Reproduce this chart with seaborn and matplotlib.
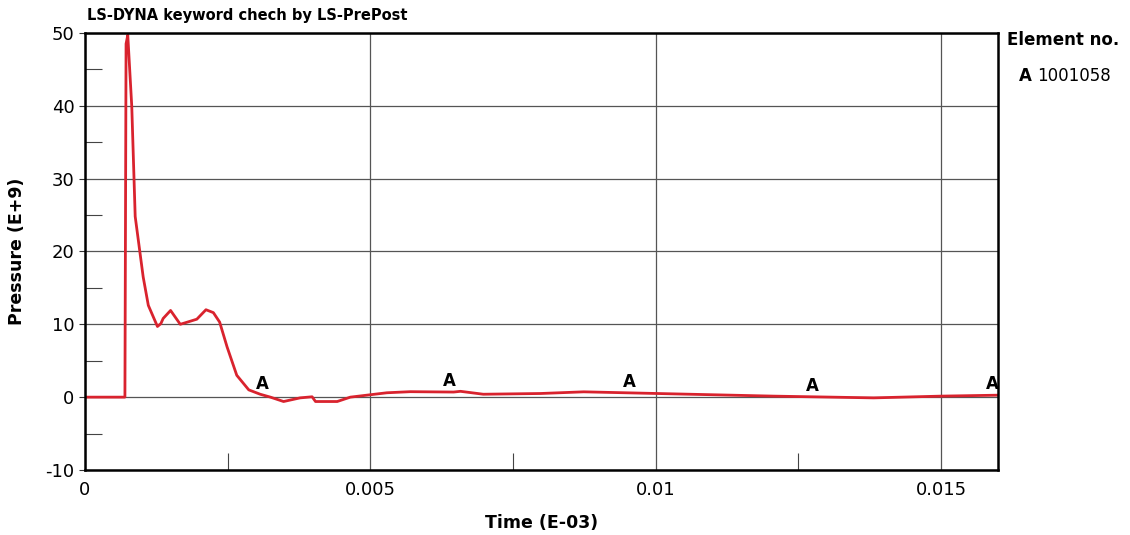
import numpy as np
import pandas as pd
import matplotlib.pyplot as plt
import seaborn as sns
from matplotlib.ticker import MultipleLocator

# Pressure history
tempo = [0.0, 0.0007, 0.00072, 0.00075, 0.00082, 0.00088, 0.00102, 0.00111, 0.00127,
         0.00133, 0.00137, 0.0015, 0.00167, 0.00196, 0.00212, 0.00225, 0.00236, 0.00249,
         0.00266, 0.00287, 0.00307, 0.00325, 0.00348, 0.00377, 0.00398, 0.00404, 0.0043,
         0.00442, 0.00465, 0.00497, 0.00529, 0.0057, 0.00646, 0.00658, 0.00698, 0.00798,
         0.00874, 0.01003, 0.01207, 0.01382, 0.015, 0.016]
pressao = [0.0, 0.0, 48.5, 49.7, 39.9, 24.8, 16.5, 12.6, 9.7,
           10.1, 10.8, 11.9, 10.0, 10.7, 12.0, 11.6, 10.3, 6.9,
           3.0, 1.0, 0.4, 0.0, -0.6, -0.1, 0.05, -0.6, -0.6,
           -0.6, 0.0, 0.3, 0.6, 0.75, 0.7, 0.8, 0.4, 0.5,
           0.73, 0.5, 0.14, -0.1, 0.14, 0.27]
marcas_t = [0.0031, 0.00639, 0.00954, 0.01275, 0.0159]
elemento = "1001058"

df = pd.DataFrame({'tempo': tempo, 'pressao': pressao})

sns.set_style("ticks")
plt.rcParams['font.family'] = ['DejaVu Sans']
plt.rcParams['axes.unicode_minus'] = False
plt.rcParams['text.color'] = 'black'
plt.rcParams['xtick.color'] = 'black'
plt.rcParams['ytick.color'] = 'black'
plt.rcParams['axes.labelcolor'] = 'black'

fig = plt.figure(figsize=(11.3, 5.35), dpi=100)
ax = fig.add_axes([0.0752, 0.1215, 0.808, 0.817])

sns.lineplot(data=df, x='tempo', y='pressao', ax=ax, color='#d9232e', linewidth=2)

# rótulos "A" sobre a curva
marcas_p = np.interp(marcas_t, tempo, pressao)
for t, p in zip(marcas_t, marcas_p):
    ax.text(t, p + 0.3, 'A', ha='center', va='bottom', fontsize=12, fontweight='bold', color='black')

ax.set_xlim(0, 0.016)
ax.set_ylim(-10, 50)
ax.set_xticks([0, 0.005, 0.01, 0.015])
ax.set_xticklabels(['0', '0.005', '0.01', '0.015'])
ax.xaxis.set_minor_locator(MultipleLocator(0.0025))
ax.yaxis.set_major_locator(MultipleLocator(10))
ax.yaxis.set_minor_locator(MultipleLocator(5))
ax.tick_params(axis='both', which='major', labelsize=13, length=4, direction='out', color='#333333')
ax.tick_params(axis='both', which='minor', length=12, width=0.8, direction='in', color='#444444')
ax.tick_params(axis='x', which='major', length=0, pad=8)

ax.grid(True, which='major', color='#555555', linewidth=0.9)
for s in ax.spines.values():
    s.set_visible(True)
    s.set_color('black')
    s.set_linewidth(1.8)

ax.set_xlabel('Time (E-03)', fontsize=12.5, fontweight='bold', labelpad=11)
ax.set_ylabel('Pressure (E+9)', fontsize=12.5, fontweight='bold', labelpad=14)
fig.text(0.077, 0.962, 'LS-DYNA keyword chech by LS-PrePost', fontsize=10.5, fontweight='bold')

fig.text(0.891, 0.915, 'Element no.', fontsize=12, fontweight='bold')
fig.text(0.902, 0.848, 'A', fontsize=12, fontweight='bold')
fig.text(0.918, 0.848, elemento, fontsize=12)

plt.savefig('out.png', dpi=100)
